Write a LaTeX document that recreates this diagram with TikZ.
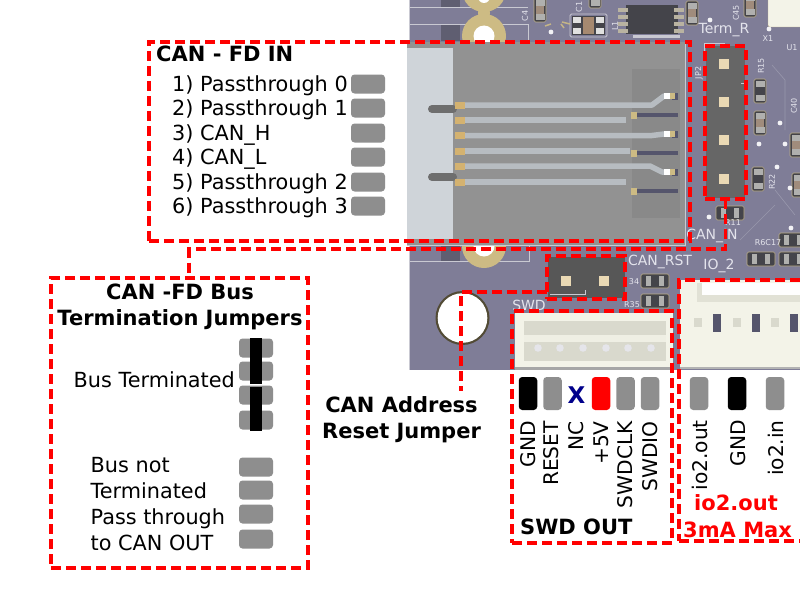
\documentclass[tikz,border=0pt]{standalone}
\usepackage{fontspec}
\setmainfont{DejaVu Sans}
\usetikzlibrary{backgrounds}
\definecolor{board}{HTML}{7F7D97}
\definecolor{boardlt}{HTML}{C9C9D2}
\definecolor{padgray}{HTML}{8E8E8E}
\definecolor{gold}{HTML}{CDBB84}
\definecolor{pinpad}{HTML}{EAD9B4}
\definecolor{jackgray}{HTML}{929292}
\definecolor{jacklt}{HTML}{CFD4D9}
\definecolor{stripe}{HTML}{B7BCC1}
\definecolor{silk}{HTML}{E4E4EC}
\definecolor{hdr}{HTML}{666666}
\definecolor{cream}{HTML}{F3F3E8}
\definecolor{creamd}{HTML}{D9D9CD}
\definecolor{darkbody}{HTML}{44444A}
\definecolor{smdpad}{HTML}{B0B0AE}
\definecolor{smdbrown}{HTML}{A08C7C}
\definecolor{navyx}{HTML}{00008B}
\definecolor{pinnose}{HTML}{6E6E6E}
\definecolor{tracedk}{HTML}{55556C}
\tikzset{
  x=1pt,y=-1pt,
  redbox/.style={draw=red,line width=3.2pt,dash pattern=on 10pt off 5pt,anchor=north west,inner sep=0pt,outer sep=0pt,rectangle},
  redline/.style={draw=red,line width=3.2pt,dash pattern=on 10pt off 5pt},
  hpad/.style={fill=padgray,rounded corners=3.5pt,minimum width=34pt,minimum height=19pt,inner sep=0pt,rectangle},
  vpad/.style={fill=padgray,rounded corners=3.5pt,minimum width=18.5pt,minimum height=33pt,inner sep=0pt,rectangle},
  lbl/.style={font=\fontsize{20.8}{24}\selectfont,anchor=base west,inner sep=0pt},
  ttl/.style={font=\fontsize{21}{24}\selectfont\bfseries,inner sep=0pt},
  vlbl/.style={font=\fontsize{20.2}{24}\selectfont,rotate=90,anchor=base east,inner sep=0pt},
  silktxt/.style={font=\fontsize{14}{16}\selectfont,text=silk,inner sep=0pt},
  tiny/.style={font=\fontsize{8}{9}\selectfont,text=silk,inner sep=0pt},
}
\newcommand{\smd}[3]{% x y centre colour, vertical part
  \filldraw[fill=darkbody,draw=gold!80!board,line width=.6pt,rounded corners=1.5pt] (#1-6,#2-12) rectangle (#1+6,#2+12);
  \fill[smdpad] (#1-4.5,#2-10) rectangle (#1+4.5,#2-4);
  \fill[smdpad] (#1-4.5,#2+4) rectangle (#1+4.5,#2+10);
  \fill[#3] (#1-4,#2-4) rectangle (#1+4,#2+4);}
\newcommand{\smdh}[2]{% horizontal part
  \filldraw[fill=darkbody,draw=gold!80!board,line width=.6pt,rounded corners=1.5pt] (#1-14,#2-7) rectangle (#1+14,#2+7);
  \fill[smdpad] (#1-9,#2-5) rectangle (#1-4,#2+5);
  \fill[smdpad] (#1+4,#2-5) rectangle (#1+9,#2+5);}
\begin{document}
\begin{tikzpicture}
\useasboundingbox (0,0) rectangle (800,594);
\fill[white] (0,0) rectangle (800,594);
% board
\fill[board] (410,0) rectangle (800,370);
\fill[black!25!board] (441,0) rectangle (460,7);
\fill[black!25!board] (441,25) rectangle (460,41);
\fill[black!25!board] (441,246) rectangle (460,261);
\draw[boardlt,line width=0.9pt] (409,7) -- (528,7) (409,24) -- (528,24) -- (528,42);
\draw[boardlt,line width=0.9pt] (409,240) -- (409,261) -- (529,261) -- (529,245);
\draw[boardlt,line width=0.9pt] (409,0) -- (409,370);
% mounting pads
\fill[gold] (484,-10) circle (22);
\fill[gold] (484,36) circle (22);
\fill[gold] (484,13) ellipse (6 and 8);
\fill[gold] (484,246) circle (22);
\foreach \p in {(484,-10),(484,36),(484,246)}{\fill[white] \p circle (10.5);}
\fill[white] (484,-3) circle (6);
\fill[black!60!gold] (462.5,318) circle (27);
\fill[white] (462.5,318) circle (24.8);
% top parts
\fill[darkbody] (626,5) rectangle (678,34);
\foreach \yy in {10,17,24,31}{\fill[smdpad!70!gold] (618,\yy-2) rectangle (628,\yy+2);\fill[smdpad!70!gold] (674,\yy-2) rectangle (684,\yy+2);}
\fill[boardlt] (633,35) rectangle (680,38);
\draw[boardlt,rounded corners=1.5pt,line width=.8pt] (570,14) rectangle (607,37);
\fill[darkbody] (572,16) rectangle (605,35);
\fill[smdbrown!80!brown] (583,17) rectangle (594,34);
\foreach \xx in {577,600}\foreach \yy in {20,31}{\fill[white!88!black] (\xx-4,\yy-3) rectangle (\xx+4,\yy+3);}
\draw[gold!90!board,line width=1.5pt] (545,26) -- (551,24) (562,22) -- (570,24) (561,24) -- (564,28);
\smd{540}{10}{smdbrown}
\smd{595}{-4}{smdbrown}
\smd{692}{13}{smdbrown}
\smd{750}{5}{smdbrown}
\filldraw[fill=cream,draw=gold!80!board,rounded corners=1.5pt] (768,-3) rectangle (803,27);
\smd{760}{91}{darkbody}
\smd{760}{123}{smdbrown}
\smd{758}{179}{darkbody}
\smd{796}{145}{smdbrown}
\smd{798}{185}{smdbrown}
\smdh{730}{213}
\smdh{761}{259}
\smdh{793}{259}
\smdh{793}{240}
\smdh{655}{281}
\smdh{655}{301}
\foreach \p in {(710,20),(780,123),(785,144),(759,144),(777,167),(709,217),(791,228),(790,188),(551,32),(769,29)}{\fill[white!90!board] \p circle (2.4);}
\draw[board!80!white,line width=.6pt] (772,65) -- (785,80) -- (785,130) (775,190) -- (795,215) (740,240) -- (775,205);
% silkscreen
\node[silktxt] (tr) at (724,30) {Term\_R};
\node[silktxt] (ci) at (712,236) {CAN\_IN};
\node[silktxt] (cr) at (660,262) {CAN\_RST};
\node[silktxt] (io) at (719,266) {IO\_2};
\node[silktxt] (sw) at (529,305) {SWD};
\node[tiny,rotate=90] (jp) at (699,73) {JP2};
\node[tiny,rotate=90] (r15) at (761,66) {R15};
\node[tiny,rotate=90] (r22) at (772,182) {R22};
\node[tiny,rotate=90] (c45) at (736,13) {C45};
\node[tiny,rotate=90] (c4) at (525,16) {C4};
\node[tiny,rotate=90] (l1) at (615,26) {L1};
\node[tiny,rotate=90] (c1) at (579,7) {C1};
\node[tiny,rotate=90] (c40) at (794,106) {C40};
\node[tiny] (x1) at (768,39) {X1};
\node[tiny] (u1) at (792,48) {U1};
\node[tiny] (r34) at (634,282) {34};
\node[tiny] (r35) at (632,305) {R35};
\node[tiny] (r17) at (768,243) {R6C17};
\node[tiny] (r11) at (733,223) {R11};
% RJ45 jack
\fill[jackgray] (407,42) rectangle (685,245);
\draw[boardlt,line width=1pt] (685,40) -- (685,245) -- (407,245);
\fill[black,opacity=.06] (632,69) rectangle (680,218);
\fill[jacklt] (407,48) rectangle (453,239);
\foreach \yy in {109,177}{\draw[pinnose,line width=8pt,line cap=round] (432,\yy) -- (453,\yy);}
\foreach \yy/\xe in {120/626,151/630,182/626}{\draw[stripe,line width=5.5pt] (460,\yy) -- (\xe,\yy);}
\draw[stripe,line width=5.5pt,line join=round] (460,105) -- (652,105) -- (664,96) -- (668,96);
\draw[stripe,line width=5.5pt,line join=round] (460,135.5) -- (652,135.5) -- (664,134) -- (668,134);
\draw[stripe,line width=5.5pt,line join=round] (460,166) -- (650,166) -- (662,172) -- (668,172);
\foreach \yy in {105,120,135.5,151,166,182}{\fill[gold!85!orange] (455,\yy-3.5) rectangle (465,\yy+3.5);}
\foreach \yy in {115,153,191}{\draw[tracedk,line width=4.5pt] (637,\yy) -- (678,\yy);}
\foreach \yy in {96,134,172}{\fill[tracedk] (672,\yy-3.5) rectangle (678,\yy+3.5);\fill[white] (664,\yy-3) rectangle (670,\yy+3);\fill[gold] (670,\yy-3) rectangle (675,\yy+3);}
\foreach \yy in {115,153,191}{\fill[gold] (631,\yy-3.5) rectangle (637,\yy+3.5);}
% headers
\draw[boardlt,line width=.9pt] (704,58) -- (704,43) -- (725,43);
\fill[hdr] (706,46) rectangle (745,198);
\foreach \yy in {64,102,140,179}{\fill[pinpad] (719,\yy-5) rectangle (729,\yy+5);}
\draw[boardlt,line width=.9pt] (741,83) -- (745,83);
\fill[hdr!85!black] (548,257) rectangle (625,298);
\foreach \xx in {566,604}{\fill[pinpad] (\xx-5,276) rectangle (\xx+5,286);}
\draw[boardlt,line width=.9pt] (550,294) -- (585,294) -- (585,290);
% white connectors
\fill[cream] (515,313) rectangle (673,367);
\fill[black!35] (515,367) rectangle (673,370);
\fill[creamd] (524,321) rectangle (666,361);
\fill[cream!85!creamd] (524,335) rectangle (666,342);
\foreach \xx in {538,560,583,606,628,651}{\fill[white!80!board] (\xx,348) circle (3.8);}
\fill[cream] (680,280) rectangle (800,367);
\fill[black!30] (680,367) rectangle (800,369);
\fill[creamd!70!cream] (697,283) rectangle (800,302);
\fill[white!96!cream] (702,283) rectangle (800,295);
\foreach \xx in {698,737,775}{\fill[creamd] (\xx-4,318) rectangle (\xx+4,327);}
\foreach \xx in {717,756,794}{\fill[tracedk] (\xx-4,314) rectangle (\xx+4,332);}
% red boxes
\node[redbox,minimum width=541pt,minimum height=199pt] (canin) at (149,42) {};
\node[redbox,minimum width=41pt,minimum height=153pt] (jpbox) at (705,46) {};
\node[redbox,minimum width=257pt,minimum height=290pt] (term) at (51,278) {};
\node[redbox,minimum width=78pt,minimum height=43pt] (rstbox) at (547,256) {};
\node[redbox,minimum width=160pt,minimum height=232pt] (swd) at (512,311) {};
\node[redbox,minimum width=140pt,minimum height=261pt] (io2) at (679,280) {};
\coordinate (ja) at (189,249);
\coordinate (rj) at (461,292);
\coordinate (re) at (461,391);
\draw[redline] (jpbox.south) |- (ja) -- (term.north -| ja);
\draw[redline] (rstbox.south west |- rj) -- (rj) -- (re);
% CAN FD IN text
\node[ttl,anchor=base west] (t1) at (156,62) {CAN - FD IN};
\node[lbl] (a1) at (172,91) {1) Passthrough 0};
\node[lbl] (a2) at (172,115) {2) Passthrough 1};
\node[lbl] (a3) at (172,140) {3) CAN\_H};
\node[lbl] (a4) at (172,164) {4) CAN\_L};
\node[lbl] (a5) at (172,189) {5) Passthrough 2};
\node[lbl] (a6) at (172,213) {6) Passthrough 3};
\foreach \yy/\nn in {84/p1,108/p2,133/p3,157/p4,182/p5,206/p6}{\node[hpad] (\nn) at (368,\yy) {};}
% Termination
\node[ttl,anchor=base] (t2) at (180,299) {CAN -FD Bus};
\node[ttl,anchor=base] (t3) at (180,325) {Termination Jumpers};
\node[lbl] (b1) at (73.5,387.5) {Bus Terminated};
\node[lbl] (b2) at (90.5,472) {Bus not};
\node[lbl] (b3) at (90.5,498) {Terminated};
\node[lbl] (b4) at (90.5,524) {Pass through};
\node[lbl] (b5) at (90.5,550) {to CAN OUT};
\foreach \yy/\nn in {348/q1,371/q2,395/q3,420/q4,467/q5,490/q6,514/q7,539/q8}{\node[hpad] (\nn) at (256,\yy) {};}
\fill[black] (250,338) rectangle (262,384);
\fill[black] (250,387) rectangle (262,431);
% CAN address
\node[ttl,anchor=base] (c1) at (401.5,412) {CAN Address};
\node[ttl,anchor=base] (c2) at (401.5,438) {Reset Jumper};
% SWD pins
\node[vpad,fill=black] (s1) at (528,393.5) {};
\node[vpad] (s2) at (552.5,393.5) {};
\node[font=\fontsize{23}{25}\selectfont\bfseries,text=navyx,anchor=base,inner sep=0pt] (s3) at (576.5,403) {X};
\node[vpad,fill=red] (s4) at (601,393.5) {};
\node[vpad] (s5) at (625.5,393.5) {};
\node[vpad] (s6) at (650,393.5) {};
\node[vpad] (i1) at (699,393.5) {};
\node[vpad,fill=black] (i2) at (737,393.5) {};
\node[vpad] (i3) at (775,393.5) {};
\foreach \xx/\tt in {535/GND,558/RESET,583/NC,608/+5V,632/SWDCLK,657/SWDIO}{\node[vlbl] at (\xx,421) {\tt};}
\foreach \xx/\tt in {707/io2.out,745/GND,783/io2.in}{\node[vlbl] at (\xx,420) {\tt};}
\node[ttl,anchor=base west] (t4) at (520,534) {SWD OUT};
\node[ttl,anchor=base,text=red] (t5) at (736,510) {io2.out};
\node[ttl,anchor=base west,text=red] (t6) at (683,537) {3mA Max};
\end{tikzpicture}
\end{document}
